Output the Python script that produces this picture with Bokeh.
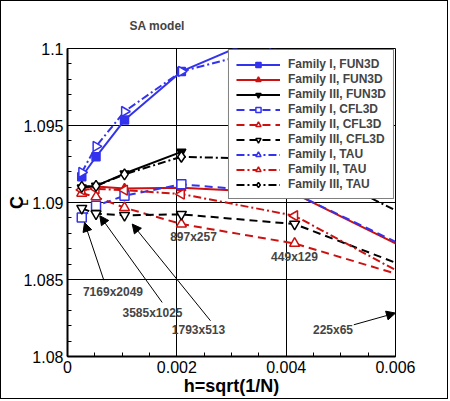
from bokeh.plotting import figure
from bokeh.models import (Legend, LegendItem, Label, Arrow, NormalHead, LinearAxis,
                          FixedTicker, CustomJSTickFormatter, Range1d)
from bokeh.embed import file_html
from bokeh.resources import INLINE
import math

# mesh spacing h = sqrt(1/N), finest grid first
h = [0.000261, 0.000522, 0.001043, 0.002083, 0.004155, 0.00827]
grid_names = ["7169x2049", "3585x1025", "1793x513", "897x257", "449x129", "225x65"]

# lift coefficient per family / code
cl_f1_fun3d = [1.09167, 1.09297, 1.09535, 1.09851, 1.10166]
cl_f2_fun3d = [1.09097, 1.09104, 1.09091, 1.09095, 1.09058, 1.08337]
cl_f3_fun3d = [1.09097, 1.09108, 1.09188, 1.09329]
cl_f1_cfl3d = [1.08903, 1.08979, 1.09044, 1.09118, 1.09058, 1.08360]
cl_f2_cfl3d = [1.09060, 1.09037, 1.08966, 1.08860, 1.08734, 1.08297]
cl_f3_cfl3d = [1.08962, 1.08927, 1.08917, 1.08923, 1.08860, 1.08301]
cl_f1_tau = [1.09195, 1.09364, 1.09591, 1.09851, 1.10040]
cl_f2_tau = [1.09082, 1.09089, 1.09080, 1.09055, 1.08914, 1.08128]
cl_f3_tau = [1.09102, 1.09108, 1.09183, 1.09297, 1.09277, 1.08545]

labels = ["Family I, FUN3D", "Family II, FUN3D", "Family III, FUN3D",
          "Family I, CFL3D", "Family II, CFL3D", "Family III, CFL3D",
          "Family I, TAU", "Family II, TAU", "Family III, TAU"]

x_ticks = [0, 0.002, 0.004, 0.006]
y_ticks = [1.08, 1.085, 1.09, 1.095, 1.1]

BLUE = "#3333ee"
RED = "#cc1111"
FONT = "Liberation Sans"

series = [
    # values, color, dash, marker, filled, angle, size
    (cl_f1_fun3d, BLUE, "solid", "square", True, 0, 8),
    (cl_f2_fun3d, RED, "solid", "triangle", True, 0, 9),
    (cl_f3_fun3d, "black", "solid", "inverted_triangle", True, 0, 9),
    (cl_f1_cfl3d, BLUE, "8 5", "square", False, 0, 9),
    (cl_f2_cfl3d, RED, "8 5", "triangle", False, 0, 10),
    (cl_f3_cfl3d, "black", "8 5", "inverted_triangle", False, 0, 10),
    (cl_f1_tau, BLUE, "8 3 2 3", "triangle", False, -math.pi / 2, 10),
    (cl_f2_tau, RED, "8 3 2 3", "triangle", False, math.pi / 2, 10),
    (cl_f3_tau, "black", "8 3 2 3", "diamond", False, 0, 11),
]

p = figure(width=448, height=399, output_backend="svg", toolbar_location=None,
           x_range=Range1d(0, 0.006), y_range=Range1d(1.08, 1.1),
           min_border_left=66, min_border_right=54,
           min_border_top=47, min_border_bottom=44)
p.styles = {"border": "1px solid black"}
p.outline_line_color = "black"
p.outline_line_width = 1

p.title.text = "SA model"
p.title.align = "left"
p.title.offset = 62
p.title.standoff = 31
p.title.text_font = FONT
p.title.text_font_size = "12px"
p.title.text_font_style = "bold"

fmt = CustomJSTickFormatter(code="return Number(tick.toFixed(4)).toString();")
p.xaxis.ticker = FixedTicker(ticks=x_ticks,
                             minor_ticks=[i * 0.0005 for i in range(13)])
p.yaxis.ticker = FixedTicker(ticks=y_ticks,
                             minor_ticks=[1.08 + i * 0.001 for i in range(21)])
for ax in [p.xaxis[0], p.yaxis[0]]:
    ax.formatter = fmt
    ax.axis_line_width = 2
    ax.axis_line_color = "black"
    ax.major_tick_in = 7
    ax.major_tick_out = 0
    ax.minor_tick_in = 4
    ax.minor_tick_out = 0
    ax.major_tick_line_color = "black"
    ax.minor_tick_line_color = "black"
    ax.major_label_text_font = FONT
    ax.major_label_text_font_size = "16px"
    ax.major_label_text_color = "black"
    ax.major_label_standoff = 4
    ax.axis_label_text_font = FONT
    ax.axis_label_text_font_size = "18px"
    ax.axis_label_text_font_style = "bold"
    ax.axis_label_text_color = "black"

p.xaxis.axis_label = "h=sqrt(1/N)"
p.xaxis.axis_label_standoff = 0
p.yaxis.axis_label = "C"
p.yaxis.axis_label_standoff = -7

# subscript of C_L: label-only axis pulled back next to the "C"
sub_axis = LinearAxis(ticker=FixedTicker(ticks=[]), axis_line_color=None,
                      major_tick_line_color=None, minor_tick_line_color=None,
                      major_tick_in=0, major_tick_out=0, major_label_standoff=0,
                      axis_label="L", axis_label_standoff=-25,
                      axis_label_text_font=FONT, axis_label_text_font_size="10px",
                      axis_label_text_font_style="bold", axis_label_text_color="black")
p.add_layout(sub_axis, "left")

p.xgrid.ticker = FixedTicker(ticks=x_ticks[1:-1])
p.ygrid.ticker = FixedTicker(ticks=y_ticks[1:-1])
for g in [p.xgrid[0], p.ygrid[0]]:
    g.grid_line_color = "black"
    g.grid_line_width = 1

items = []
for (vals, col, dash, mk, filled, ang, sz), lab in zip(series, labels):
    xs = h[:len(vals)]
    rl = p.line(xs, vals, line_color=col, line_width=2, line_dash=dash)
    rs = p.scatter(xs, vals, marker=mk, size=sz, angle=ang, line_color=col,
                   line_width=1.5, fill_color=col if filled else "white")
    items.append(LegendItem(label=lab, renderers=[rl, rs]))

legend = Legend(items=items, location="top_right", margin=1, padding=7,
                spacing=1, glyph_width=44, glyph_height=13, label_height=13,
                label_standoff=8, label_text_font=FONT,
                label_text_font_style="bold", label_text_font_size="12px",
                border_line_color="black", border_line_width=1,
                background_fill_color="white", background_fill_alpha=1)
p.add_layout(legend)

# grid size callouts
text_pos = [(0.000832, 1.0842), (0.001555, 1.08282), (0.002396, 1.08173),
            (0.002305, 1.08777), (0.004152, 1.08647), (0.004857, 1.08170)]
for name, (tx, ty) in zip(grid_names, text_pos):
    p.add_layout(Label(x=tx, y=ty, text=name, text_font=FONT,
                       text_font_style="bold", text_font_size="12px",
                       text_align="center", text_baseline="middle"))

arrows = [((0.000664, 1.08496), (0.000311, 1.08870)),
          ((0.001732, 1.08351), (0.000591, 1.08914)),
          ((0.002616, 1.08232), (0.001184, 1.08860)),
          ((0.005237, 1.08206), (0.006, 1.08282))]
for (x0, y0), (x1, y1) in arrows:
    p.add_layout(Arrow(end=NormalHead(size=9, fill_color="black", line_color="black"),
                       x_start=x0, y_start=y0, x_end=x1, y_end=y1,
                       line_color="black", line_width=1))

open("out.html", "w").write(file_html(p, INLINE))
